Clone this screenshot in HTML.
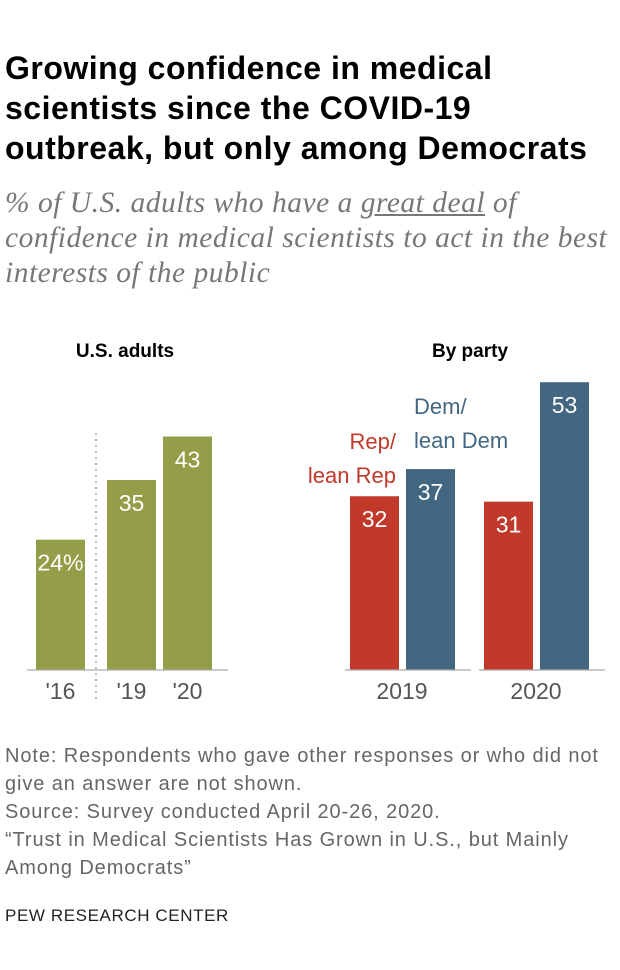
<!DOCTYPE html>
<html><head><meta charset="utf-8"><style>
body{margin:0;width:620px;height:970px;background:#fff;font-family:"Liberation Sans",sans-serif;position:relative;overflow:hidden}
.t{position:absolute;left:5px;top:48px;font-size:32px;font-weight:bold;line-height:40px;color:#000;letter-spacing:0.5px;white-space:nowrap}
.s{position:absolute;left:5px;top:186px;font-family:"Liberation Serif",serif;font-style:italic;font-size:29.5px;line-height:35px;color:#777;white-space:nowrap;letter-spacing:0.5px}
.n{position:absolute;left:5px;top:742px;font-size:20px;line-height:28px;color:#666;white-space:nowrap;letter-spacing:0.9px}
.p{position:absolute;left:5px;top:906px;font-size:17px;color:#222;letter-spacing:0.6px}
</style></head><body>
<div class="t">Growing confidence in medical<br>scientists since the COVID-19<br>outbreak, but only among Democrats</div>
<div class="s">% of U.S. adults who have a <u>great deal</u> of<br>confidence in medical scientists to act in the best<br>interests of the public</div>
<svg id="c" width="620" height="970" style="position:absolute;left:0;top:0"></svg>
<div class="n">Note: Respondents who gave other responses or who did not<br>give an answer are not shown.<br>Source: Survey conducted April 20-26, 2020.<br>“Trust in Medical Scientists Has Grown in U.S., but Mainly<br>Among Democrats”</div>
<div class="p">PEW RESEARCH CENTER</div>
<script>
const adultYears=["'16","'19","'20"];
const adultValues=[24,35,43];
const adultLabels=["24%","35","43"];
const partyYears=["2019","2020"];
const repValues=[32,31];
const demValues=[37,53];
const svg=document.getElementById('c');
const NS='http://www.w3.org/2000/svg';
const base=670, k=5.43;
const y=v=>base-v*k;
function el(t,a,txt){const e=document.createElementNS(NS,t);for(const q in a)e.setAttribute(q,a[q]);if(txt!==undefined)e.textContent=txt;svg.appendChild(e);return e;}
function txt(x,yy,s,size,fill,w,name,anchor){const e=el('text',{x:x,y:yy,'text-anchor':anchor||'middle','font-size':size,fill:fill,'font-weight':w||'normal','font-family':'Liberation Sans, sans-serif'},s);

return e;}
txt(125,357,'U.S. adults',19,'#000','bold','panel-title-adults');
txt(470,357,'By party',19,'#000','bold','panel-title-party');
const ax=[36,107,163], bw=49;
adultValues.forEach((v,i)=>{
 const r=el('rect',{x:ax[i],y:y(v),width:bw,height:v*k,fill:'#949d48'});
 
 
 txt(ax[i]+bw/2,y(v)+31,adultLabels[i],23,'#fff','normal','bar-value-label');
 txt(ax[i]+bw/2,699,adultYears[i],23,'#555','normal','x-tick-label');
});
const d=el('line',{x1:96,y1:433,x2:96,y2:700,stroke:'#999','stroke-dasharray':'2,4','stroke-width':1.3});


const a1=el('line',{x1:27,y1:base,x2:228,y2:base,stroke:'#aaa','stroke-width':1.3});


const gx=[350,484];
partyYears.forEach((yr,i)=>{
 const rv=repValues[i],dv=demValues[i];
 const r=el('rect',{x:gx[i],y:y(rv),width:49,height:rv*k,fill:'#c0392b'});
 
 
 txt(gx[i]+24.5,y(rv)+31,String(rv),23,'#fff','normal','bar-value-label');
 const b=el('rect',{x:gx[i]+56,y:y(dv),width:49,height:dv*k,fill:'#436781'});
 
 
 txt(gx[i]+80.5,y(dv)+31,String(dv),23,'#fff','normal','bar-value-label');
 const l=el('line',{x1:gx[i]-5,y1:base,x2:gx[i]+121,y2:base,stroke:'#aaa','stroke-width':1.3});
 
 
 txt(gx[i]+52,699,yr,23,'#555','normal','x-tick-label');
});
txt(396,449,'Rep/',22,'#c0392b','normal','legend-rep','end');
txt(396,483,'lean Rep',22,'#c0392b','normal','legend-rep','end');
txt(414,414,'Dem/',22,'#436781','normal','legend-dem','start');
txt(414,448,'lean Dem',22,'#436781','normal','legend-dem','start');
</script>
</body></html>
